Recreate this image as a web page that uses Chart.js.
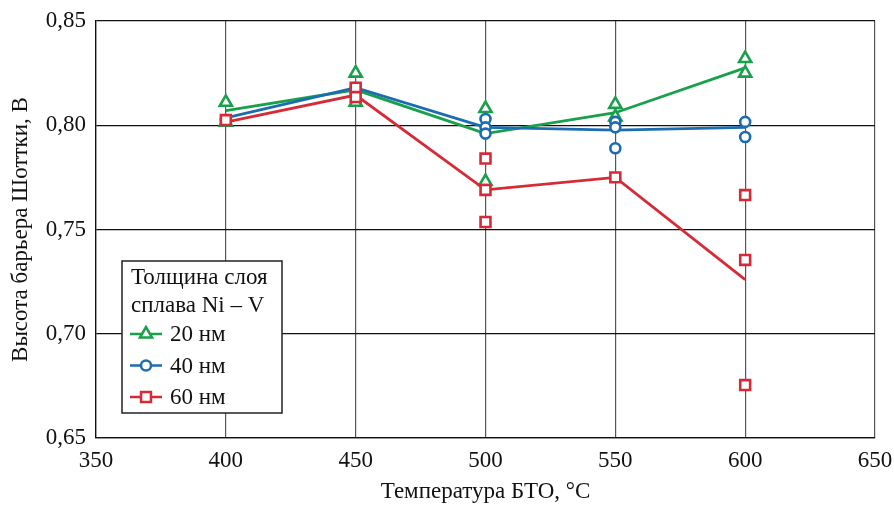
<!DOCTYPE html>
<html>
<head>
<meta charset="utf-8">
<script src="https://cdn.jsdelivr.net/npm/chart.js@4.4.0/dist/chart.umd.min.js"></script>
<style>
  html, body { margin: 0; padding: 0; background: #fff; }
  #wrap { width: 894px; height: 506px; }
</style>
</head>
<body>
<div id="wrap"><canvas id="chart" width="894" height="506"></canvas></div>
<script>
// --- data ---
const temps = [400, 450, 500, 550, 600];

// mean lines
const mean20 = [0.807, 0.817, 0.796, 0.806, 0.8275];
const mean40 = [0.8035, 0.818, 0.799, 0.7977, 0.799];
const mean60 = [0.8015, 0.8145, 0.769, 0.775, 0.726];

// individual measurements (temperature, value)
const meas20T = [400, 400, 450, 450, 500, 500, 550, 550, 600, 600];
const meas20V = [0.811, 0.8015, 0.825, 0.811, 0.808, 0.773, 0.810, 0.804, 0.832, 0.825];
const meas40T = [400, 450, 500, 500, 500, 550, 550, 550, 600, 600];
const meas40V = [0.8025, 0.818, 0.803, 0.799, 0.796, 0.8016, 0.799, 0.789, 0.8016, 0.7944];
const meas60T = [400, 450, 450, 500, 500, 500, 550, 600, 600, 600];
const meas60V = [0.8025, 0.818, 0.8135, 0.784, 0.769, 0.7536, 0.775, 0.7665, 0.7354, 0.6754];

const seriesNames = ['20 нм', '40 нм', '60 нм'];
const legendTitle = ['Толщина слоя', 'сплава Ni – V'];
const xTitle = 'Температура БТО, °С';
const yTitle = 'Высота барьера Шоттки, В';

const GREEN = '#19a04b';
const BLUE = '#1c6db0';
const RED = '#d52b37';
const FONT = '"Liberation Serif", "Times New Roman", serif';

function toPoints(xs, ys) {
    return xs.map((x, i) => ({ x: x, y: ys[i] }));
}

function lineSet(values, color, order) {
    return {
        type: 'line',
        data: toPoints(temps, values),
        borderColor: color,
        borderWidth: 2.8,
        pointRadius: 0,
        fill: false,
        tension: 0,
        order: order
    };
}

function markSet(xs, ys, color, style, radius, order) {
    return {
        type: 'scatter',
        data: toPoints(xs, ys),
        borderColor: color,
        backgroundColor: '#ffffff',
        borderWidth: 2.6,
        pointStyle: style,
        pointRadius: radius,
        showLine: false,
        order: order
    };
}

// draw a marker for the legend
function drawMarker(ctx, style, x, y, r, color) {
    ctx.save();
    ctx.strokeStyle = color;
    ctx.fillStyle = '#fff';
    ctx.lineWidth = 2.5;
    ctx.beginPath();
    if (style === 'triangle') {
        ctx.moveTo(x, y - r);
        ctx.lineTo(x + r * 0.866, y + r * 0.5);
        ctx.lineTo(x - r * 0.866, y + r * 0.5);
        ctx.closePath();
    } else if (style === 'circle') {
        ctx.arc(x, y, r, 0, Math.PI * 2);
    } else {
        const s = r * Math.SQRT1_2;
        ctx.rect(x - s, y - s, 2 * s, 2 * s);
    }
    ctx.fill();
    ctx.stroke();
    ctx.restore();
}

const boxLegend = {
    id: 'boxLegend',
    afterDatasetsDraw(chart) {
        const ctx = chart.ctx;
        const a = chart.chartArea;
        const left = a.left + 26, top = a.top + 240, w = 160, h = 152;
        ctx.save();
        ctx.fillStyle = '#fff';
        ctx.fillRect(left, top, w, h);
        ctx.strokeStyle = '#222';
        ctx.lineWidth = 1.5;
        ctx.strokeRect(left, top, w, h);
        ctx.fillStyle = '#111';
        ctx.font = '23px ' + FONT;
        ctx.textBaseline = 'middle';
        ctx.textAlign = 'left';
        ctx.fillText(legendTitle[0], left + 9, top + 17);
        ctx.fillText(legendTitle[1], left + 9, top + 45);
        const colors = [GREEN, BLUE, RED];
        const styles = ['triangle', 'circle', 'rect'];
        const radii = [7, 5, 7];
        for (let i = 0; i < 3; i++) {
            const y = top + 73 + i * 31.5;
            ctx.strokeStyle = colors[i];
            ctx.lineWidth = 2.5;
            ctx.beginPath();
            ctx.moveTo(left + 8, y);
            ctx.lineTo(left + 40, y);
            ctx.stroke();
            drawMarker(ctx, styles[i], left + 24, y, radii[i], colors[i]);
            ctx.fillStyle = '#111';
            ctx.fillText(seriesNames[i], left + 48, y + 1);
        }
        ctx.restore();
    }
};

new Chart(document.getElementById('chart').getContext('2d'), {
    data: {
        datasets: [
            markSet(meas60T, meas60V, RED, 'rect', 7, 1),
            lineSet(mean60, RED, 2),
            markSet(meas40T, meas40V, BLUE, 'circle', 5, 3),
            lineSet(mean40, BLUE, 4),
            markSet(meas20T, meas20V, GREEN, 'triangle', 7, 5),
            lineSet(mean20, GREEN, 6)
        ]
    },
    options: {
        responsive: false,
        animation: false,
        layout: { padding: { top: 21, right: 19, left: 3, bottom: 0 } },
        plugins: { legend: { display: false }, tooltip: { enabled: false } },
        scales: {
            x: {
                type: 'linear',
                min: 350, max: 650,
                afterFit: s => { s.height = 68; s.paddingLeft = 0; s.paddingRight = 0; },
                ticks: { stepSize: 50, color: '#111', padding: 9, font: { family: FONT, size: 23 } },
                grid: { color: '#555', lineWidth: 1.2, drawTicks: false },
                border: { color: '#111', width: 1.3 },
                title: { display: true, text: xTitle, color: '#111', padding: { top: 4, bottom: 0 }, font: { family: FONT, size: 23 } }
            },
            y: {
                min: 0.65, max: 0.85,
                afterFit: s => { s.width = 93; s.paddingTop = 0; s.paddingBottom = 0; },
                ticks: {
                    stepSize: 0.05, color: '#111', padding: 10,
                    font: { family: FONT, size: 23 },
                    callback: v => v.toFixed(2).replace('.', ',')
                },
                grid: { color: '#111', lineWidth: 1.2, drawTicks: false },
                border: { color: '#111', width: 1.3 },
                title: { display: true, text: yTitle, color: '#111', padding: { bottom: 2 }, font: { family: FONT, size: 23 } }
            }
        }
    },
    plugins: [boxLegend]
});
</script>
</body>
</html>
